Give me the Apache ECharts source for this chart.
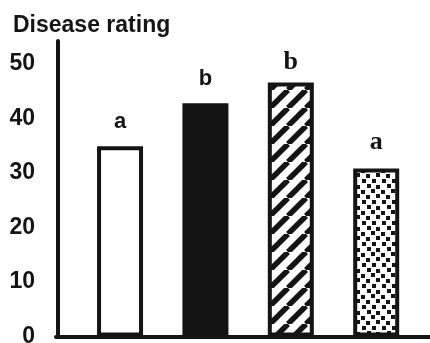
<!DOCTYPE html>
<html><head><meta charset="utf-8">
<script src="https://cdn.jsdelivr.net/npm/echarts@6/dist/echarts.min.js"></script>
<style>html,body{margin:0;padding:0;background:#fff}#c{width:430px;height:343px}</style>
</head><body><div id="c"></div>
<script>
// Data
const treatments = [1, 2, 3, 4];
const ratings = [34.9, 42.8, 46.6, 30.8];
const letters = ['a', 'b', 'b', 'a'];
const yTicks = [0, 10, 20, 30, 40, 50];

const INK = '#141414';
const SANS = '"Liberation Sans", Arial, Helvetica, sans-serif';
const SERIF = '"Liberation Serif", "Times New Roman", serif';

function hatchTile() {
  const s = 18, c = document.createElement('canvas');
  c.width = s; c.height = s;
  const g = c.getContext('2d');
  g.fillStyle = '#fff'; g.fillRect(0, 0, s, s);
  g.strokeStyle = INK; g.lineWidth = 5.5;
  [-s, 0, s].forEach(o => { g.beginPath(); g.moveTo(o, s); g.lineTo(o + s, 0); g.stroke(); });
  return c;
}
function dotTile() {
  const w = 20, h = 21, c = document.createElement('canvas');
  c.width = w; c.height = h;
  const g = c.getContext('2d');
  g.fillStyle = '#fff'; g.fillRect(0, 0, w, h);
  g.fillStyle = INK;
  [[1,1],[11,0],[6,6],[16,5],[2,11],[12,11],[7,16],[16,17]].forEach(p => g.fillRect(p[0], p[1], 4, 4));
  return c;
}

const fills = ['#ffffff', INK, { image: hatchTile(), repeat: 'repeat' }, { image: dotTile(), repeat: 'repeat' }];
const labelFonts = [
  { fontFamily: SANS, fontSize: 22, distance: 13 },
  { fontFamily: SANS, fontSize: 22, distance: 13 },
  { fontFamily: SERIF, fontSize: 26, distance: 7 },
  { fontFamily: SERIF, fontSize: 26, distance: 13 }
];

const seriesData = treatments.map((t, i) => ({
  value: [t, ratings[i]],
  itemStyle: { color: fills[i], borderColor: INK, borderWidth: 4 },
  label: {
    show: true, position: 'top', formatter: letters[i],
    distance: labelFonts[i].distance,
    fontFamily: labelFonts[i].fontFamily, fontSize: labelFonts[i].fontSize,
    fontWeight: 'bold', color: INK
  }
}));

const chart = echarts.init(document.getElementById('c'), null, { renderer: 'canvas' });
chart.setOption({
  animation: false,
  backgroundColor: '#fff',
  title: {
    text: 'Disease rating', left: 13, top: 14, padding: 0,
    textStyle: { fontFamily: SANS, fontSize: 23, fontWeight: 'bold', color: INK }
  },
  grid: { left: 56, right: 0, top: 41, bottom: 6.5, containLabel: false, outerBoundsMode: 'none' },
  xAxis: {
    type: 'value', min: 0.25, max: 4.63,
    offset: 2.5,
    axisLine: { show: true, lineStyle: { color: INK, width: 4 } },
    axisTick: { show: false }, axisLabel: { show: false }, splitLine: { show: false }
  },
  yAxis: {
    type: 'value', min: 0, max: 54.2, interval: 10,
    offset: -2,
    axisLine: { show: true, lineStyle: { color: INK, width: 4 } },
    axisTick: { show: false }, splitLine: { show: false },
    axisLabel: {
      margin: 23, color: INK, fontFamily: SANS, fontSize: 23, fontWeight: 'bold',
      showMaxLabel: false,
      formatter: v => (yTicks.indexOf(v) >= 0 ? String(v) : '')
    }
  },
  series: [{
    type: 'bar', barWidth: 46, data: seriesData, clip: false
  }]
});
</script>
</body></html>
